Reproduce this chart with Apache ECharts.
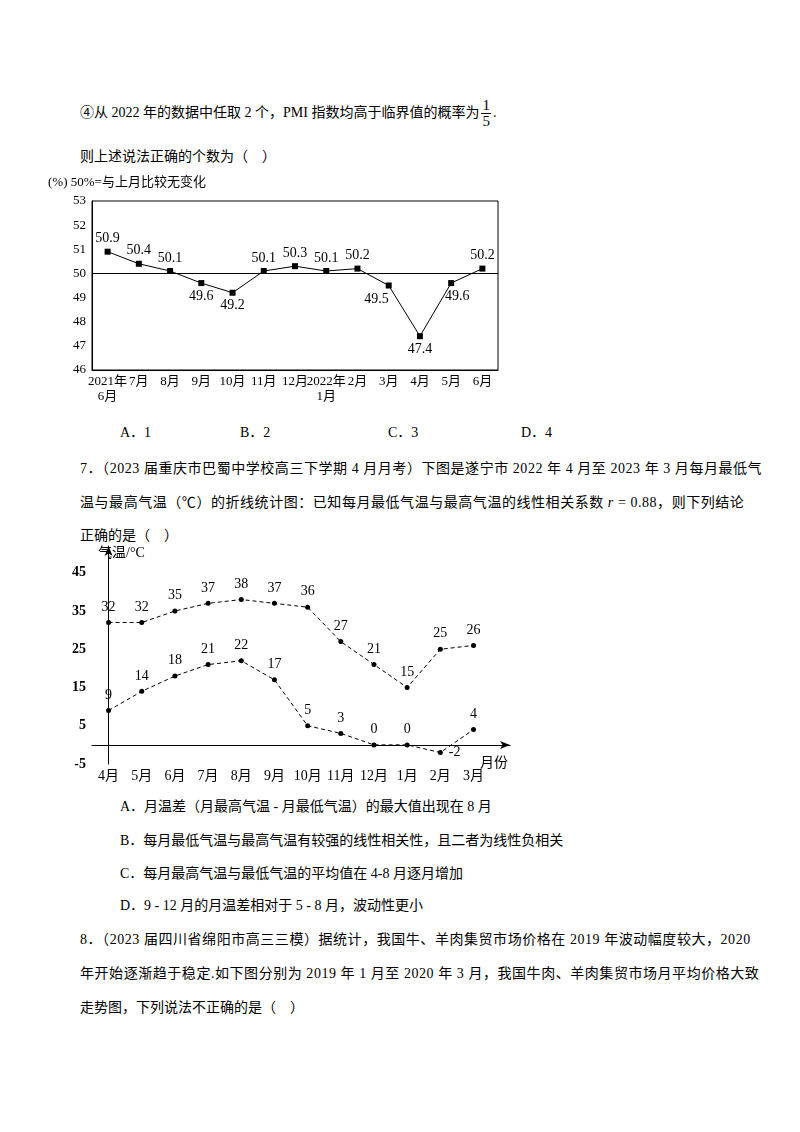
<!DOCTYPE html>
<html><head><meta charset="utf-8">
<script src="https://cdn.jsdelivr.net/npm/echarts@6/dist/echarts.min.js"></script>
<style>
body{margin:0;width:800px;height:1132px;background:#fff;position:relative;font-family:"Liberation Serif","Noto Sans CJK SC",serif;font-size:14px;color:#000}
.t{position:absolute;white-space:nowrap;line-height:18px}
.w{letter-spacing:0.55px}
.fr{display:inline-block;vertical-align:middle;text-align:center;font-size:15px;line-height:15px;margin:0 2px}
.fr span{display:block}
.fr .n{border-bottom:1px solid #000;padding:0 1px}
#c1{position:absolute;left:40px;top:170px;width:480px;height:245px}
#c2{position:absolute;left:40px;top:540px;width:480px;height:250px}
</style></head><body>
<div class="t" style="left:80px;top:98px">④从 2022 年的数据中任取 2 个，PMI 指数均高于临界值的概率为<span class="fr"><span class="n">1</span><span>5</span></span>.</div>
<div class="t" style="left:80px;top:148px">则上述说法正确的个数为（　）</div>
<div class="t" style="left:120px;top:424px">A．1</div>
<div class="t" style="left:240px;top:424px">B．2</div>
<div class="t" style="left:388px;top:424px">C．3</div>
<div class="t" style="left:521px;top:424px">D．4</div>
<div class="t w" style="left:80px;top:460px">7．（2023 届重庆市巴蜀中学校高三下学期 4 月月考）下图是遂宁市 2022 年 4 月至 2023 年 3 月每月最低气</div>
<div class="t w" style="left:80px;top:494px">温与最高气温（℃）的折线统计图：已知每月最低气温与最高气温的线性相关系数 <i>r</i> = 0.88，则下列结论</div>
<div class="t" style="left:80px;top:527px">正确的是（　）</div>
<div class="t" style="left:120px;top:798px">A．月温差（月最高气温 - 月最低气温）的最大值出现在 8 月</div>
<div class="t" style="left:120px;top:832px">B．每月最低气温与最高气温有较强的线性相关性，且二者为线性负相关</div>
<div class="t" style="left:120px;top:865px">C．每月最高气温与最低气温的平均值在 4-8 月逐月增加</div>
<div class="t" style="left:120px;top:897px">D．9 - 12 月的月温差相对于 5 - 8 月，波动性更小</div>
<div class="t w" style="left:80px;top:931px">8．（2023 届四川省绵阳市高三三模）据统计，我国牛、羊肉集贸市场价格在 2019 年波动幅度较大，2020</div>
<div class="t w" style="left:80px;top:965px">年开始逐渐趋于稳定.如下图分别为 2019 年 1 月至 2020 年 3 月，我国牛肉、羊肉集贸市场月平均价格大致</div>
<div class="t" style="left:80px;top:999px">走势图，下列说法不正确的是（　）</div>
<div id="c1"></div>
<div id="c2"></div>
<script>
var pmiMonths = ['2021年\n6月','7月','8月','9月','10月','11月','12月','2022年\n1月','2月','3月','4月','5月','6月'];
var pmiValues = [50.9, 50.4, 50.1, 49.6, 49.2, 50.1, 50.3, 50.1, 50.2, 49.5, 47.4, 49.6, 50.2];

var tempMonths = ['4月','5月','6月','7月','8月','9月','10月','11月','12月','1月','2月','3月'];
var tempHigh = [32, 32, 35, 37, 38, 37, 36, 27, 21, 15, 25, 26];
var tempLow = [9, 14, 18, 21, 22, 17, 5, 3, 0, 0, -2, 4];
var tempTicks = [-5, 5, 15, 25, 35, 45];

var FONT = '"Liberation Serif","Noto Sans CJK SC",serif';

// 第一张图：PMI
var below = {3: 'bottom', 4: 'bottom', 9: 'left', 10: 'bottom', 11: 'bottom'};
var chart1 = echarts.init(document.getElementById('c1'));
chart1.setOption({
    animation: false,
    textStyle: {fontFamily: FONT, color: '#000'},
    grid: {left: 52, right: 22, top: 31, bottom: 45, show: true, borderColor: '#000', borderWidth: 1},
    graphic: [
        {type: 'text', left: 8, top: 6, style: {text: '(%) 50%=与上月比较无变化', font: '13px ' + FONT, fill: '#000'}}
    ],
    xAxis: {
        type: 'category', data: pmiMonths, boundaryGap: true,
        axisLine: {lineStyle: {color: '#000'}}, axisTick: {show: false},
        axisLabel: {color: '#000', fontSize: 13, interval: 0, margin: 4, lineHeight: 15,
            fontFamily: FONT}
    },
    yAxis: {
        type: 'value', min: 46, max: 53, interval: 1,
        axisLine: {show: true, lineStyle: {color: '#000'}},
        axisTick: {inside: true, length: 3, lineStyle: {color: '#000'}},
        splitLine: {show: false},
        axisLabel: {color: '#000', fontSize: 13, margin: 6, fontFamily: FONT}
    },
    series: [{
        type: 'line', data: pmiValues.map(function (v, i) {
            var lbl = {position: below[i] || 'top'};
            if (i == 9) lbl.offset = [6, 14];
            if (i == 11) lbl.offset = [6, 0];
            return {value: v, label: lbl};
        }),
        symbol: 'rect', symbolSize: 6,
        lineStyle: {color: '#000', width: 1}, itemStyle: {color: '#000'},
        label: {show: true, color: '#000', fontSize: 14, distance: 3, fontFamily: FONT},
        markLine: {silent: true, symbol: 'none', label: {show: false},
            lineStyle: {color: '#000', type: 'solid', width: 1}, data: [{yAxis: 50}]}
    }]
});

// 第二张图：气温
var lowPos = {10: 'right'};
var chart2 = echarts.init(document.getElementById('c2'));
chart2.setOption({
    animation: false,
    textStyle: {fontFamily: FONT, color: '#000'},
    grid: {left: 52, right: 10, top: 6, bottom: 26},
    graphic: [
        {type: 'text', left: 58, top: 6, style: {text: '气温/°C', font: '14px ' + FONT, fill: '#000'}},
        {type: 'text', left: 440, top: 216, style: {text: '月份', font: '14px ' + FONT, fill: '#000'}}
    ],
    xAxis: {
        type: 'value', min: -0.5, max: 12.1,
        axisLine: {onZero: true, symbol: ['none', 'arrow'], symbolSize: [6, 10], lineStyle: {color: '#000'}},
        axisTick: {show: false}, splitLine: {show: false},
        axisLabel: {customValues: [0,1,2,3,4,5,6,7,8,9,10,11], color: '#000', fontSize: 14, margin: 5,
            fontFamily: FONT,
            formatter: function (v) { return tempMonths[v]; }}
    },
    yAxis: {
        type: 'value', min: -5, max: 52,
        axisLine: {show: true, symbol: ['none', 'arrow'], symbolSize: [6, 10], lineStyle: {color: '#000'}},
        axisTick: {show: false}, splitLine: {show: false},
        axisLabel: {customValues: tempTicks, color: '#000', fontSize: 14, fontWeight: 'bold', margin: 6, fontFamily: FONT}
    },
    series: [{
        type: 'line', data: tempHigh.map(function (v, i) { return [i, v]; }),
        symbol: 'circle', symbolSize: 5,
        lineStyle: {color: '#000', width: 1, type: [4, 3]}, itemStyle: {color: '#000'},
        label: {show: true, position: 'top', color: '#000', fontSize: 14, distance: 6, fontFamily: FONT}
    }, {
        type: 'line', data: tempLow.map(function (v, i) {
            return {value: [i, v], label: {position: lowPos[i] || 'top'}};
        }),
        symbol: 'circle', symbolSize: 5,
        lineStyle: {color: '#000', width: 1, type: [4, 3]}, itemStyle: {color: '#000'},
        label: {show: true, color: '#000', fontSize: 14, distance: 6, fontFamily: FONT,
            formatter: function (p) { return p.value[1]; }}
    }]
});
</script>
</body></html>
